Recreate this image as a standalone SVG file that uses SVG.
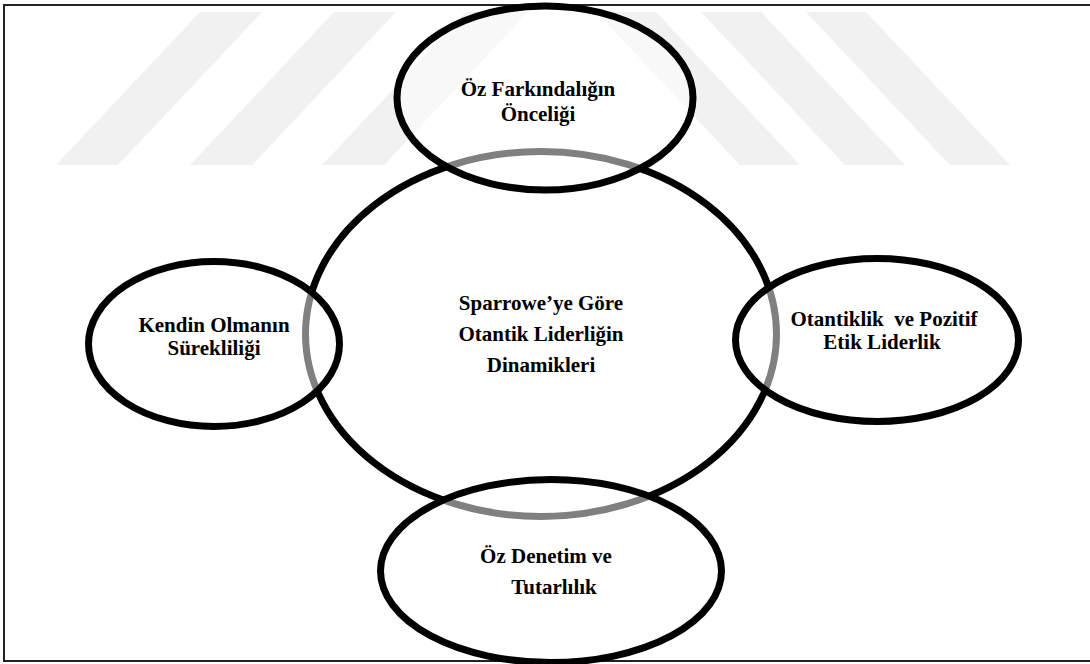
<svg xmlns="http://www.w3.org/2000/svg" width="1090" height="664" viewBox="0 0 1090 664">
  <style>
    .band { fill: #f1f1f1; }
    .hub { fill: none; stroke: #000; stroke-width: 7; }
    .sat { fill: #fff; fill-opacity: 0.5; stroke: #000; stroke-width: 7; }
    .lbl { font-family: "Liberation Serif", "Times New Roman", serif; font-weight: bold; font-size: 21px; fill: #000; text-anchor: middle; }
  </style>

  <rect x="0" y="0" width="1090" height="664" fill="#fff"/>

  <!-- faint background emblem: slanted bands -->
  <g id="emblem">
    <polygon class="band" points="56,165 118,165 262,12 200,12"/>
    <polygon class="band" points="190,165 252,165 396,12 334,12"/>
    <polygon class="band" points="322,165 384,165 528,12 466,12"/>
    <polygon class="band" points="596,12 656,12 800,165 740,165"/>
    <polygon class="band" points="701,12 761,12 905,165 845,165"/>
    <polygon class="band" points="806,12 866,12 1010,165 950,165"/>
  </g>

  <!-- page frame -->
  <rect x="4" y="5" width="1100" height="656" fill="none" stroke="#222" stroke-width="2"/>

  <g id="connectors"></g>

  <g id="hub">
    <ellipse class="hub" cx="541" cy="334" rx="235.5" ry="182.5"/>
    <text class="lbl" x="541" y="310">Sparrowe’ye Göre</text>
    <text class="lbl" x="541" y="341">Otantik Liderliğin</text>
    <text class="lbl" x="541" y="372">Dinamikleri</text>
  </g>

  <g id="top-node">
    <ellipse class="sat" cx="545" cy="98" rx="148" ry="92"/>
    <text class="lbl" x="538" y="96">Öz Farkındalığın</text>
    <text class="lbl" x="538" y="121">Önceliği</text>
  </g>

  <g id="left-node">
    <ellipse class="sat" cx="214" cy="344" rx="125.5" ry="82.5"/>
    <text class="lbl" x="214" y="332">Kendin Olmanın</text>
    <text class="lbl" x="214" y="355">Sürekliliği</text>
  </g>

  <g id="right-node">
    <ellipse class="sat" cx="877" cy="340" rx="141.5" ry="81.5"/>
    <text class="lbl" x="884" y="326" xml:space="preserve">Otantiklik  ve Pozitif</text>
    <text class="lbl" x="882" y="349">Etik Liderlik</text>
  </g>

  <g id="bottom-node">
    <ellipse class="sat" cx="551" cy="571" rx="170.5" ry="91.5"/>
    <text class="lbl" x="546" y="563">Öz Denetim ve</text>
    <text class="lbl" x="554" y="594">Tutarlılık</text>
  </g>
</svg>
